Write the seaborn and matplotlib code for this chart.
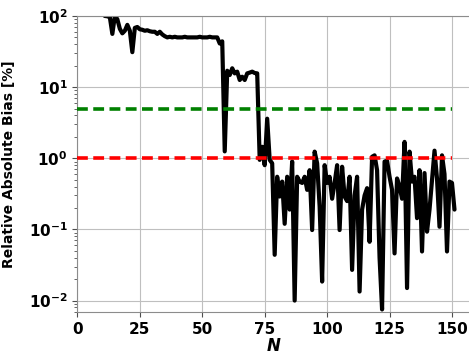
import numpy as np
import pandas as pd
import seaborn as sns
import matplotlib.pyplot as plt

# sample size N and relative absolute bias (%)
n_vals = list(range(1, 152))
bias_vals = [
    400, 350, 300, 280, 250, 220, 200, 170, 140, 110,          # 1-10
    100, 99, 96, 56, 100, 90, 66, 57, 62, 75,                  # 11-20
    62, 31, 68, 70, 65, 64, 62, 63, 61, 60,                    # 21-30
    60, 56, 60, 55, 52, 50, 51, 50, 51, 50,                    # 31-40
    50, 50, 51, 50, 50, 50, 50, 50, 51, 50,                    # 41-50
    50, 50, 51, 50, 50, 50, 41, 44, 1.25, 17,                  # 51-60
    14.8, 18.4, 15.6, 16.5, 12.6, 14, 12.6, 15.6, 16, 16.5,    # 61-70
    15.8, 15.6, 0.95, 1.45, 0.8, 3.6, 0.95, 0.85, 0.044, 0.55, # 71-80
    0.29, 0.47, 0.12, 0.55, 0.19, 0.9, 0.01, 0.55, 0.47, 0.45, # 81-90
    0.55, 0.36, 0.68, 0.098, 1.24, 0.85, 0.21, 0.0185, 0.8, 0.45,  # 91-100
    0.55, 0.27, 0.45, 0.8, 0.098, 0.76, 0.29, 0.25, 0.55, 0.027,   # 101-110
    0.3, 0.55, 0.0134, 0.19, 0.3, 0.38, 0.067, 1.05, 1.1, 0.68,    # 111-120
    0.04, 0.0075, 0.9, 0.92, 0.55, 0.36, 0.046, 0.52, 0.4, 0.27,   # 121-130
    1.7, 0.015, 1.24, 0.47, 0.55, 0.144, 0.68, 0.049, 0.62, 0.093, # 131-140
    0.19, 0.5, 1.28, 0.52, 0.109, 1.1, 0.6, 0.049, 0.47, 0.45,     # 141-150
    0.19,                                                          # 151
]

# reference thresholds (%) and the N range they span
thresholds = [5, 1]
threshold_colors = ["green", "red"]
threshold_span = [0, 150]

x_ticks = [0, 25, 50, 75, 100, 125, 150]


def main():
    df = pd.DataFrame({"N": n_vals, "bias": bias_vals})

    sns.set_style("whitegrid", {
        "axes.edgecolor": "0.55",
        "grid.color": "0.75",
        "xtick.bottom": True,
        "ytick.left": True,
        "text.color": "black",
        "axes.labelcolor": "black",
        "xtick.color": "black",
        "ytick.color": "black",
    })
    plt.rcParams["font.family"] = ["DejaVu Sans"]
    plt.rcParams["font.weight"] = "bold"
    plt.rcParams["mathtext.default"] = "bf"

    fig = plt.figure(figsize=(4.69, 3.55), dpi=100)
    ax = fig.add_axes([0.165, 0.121, 0.844, 0.834])

    sns.lineplot(data=df, x="N", y="bias", color="black", linewidth=3, ax=ax)

    for val, col in zip(thresholds, threshold_colors):
        ax.hlines(val, threshold_span[0], threshold_span[1], colors=col,
                  linestyles=(0, (3, 1.5)), linewidth=2.6, zorder=3)

    ax.set_yscale("log")
    ax.set_ylim(0.0069, 100)
    ax.set_xlim(0, 158.5)
    ax.set_xticks(x_ticks)

    ax.tick_params(axis="both", labelsize=11, length=3.5, color="0.3",
                   labelcolor="black")
    ax.tick_params(axis="y", which="minor", left=True, length=2, color="0.3")
    for lab in ax.get_xticklabels() + ax.get_yticklabels():
        lab.set_fontweight("bold")

    ax.set_xlabel("N", fontsize=12, fontweight="bold", fontstyle="italic")
    ax.set_ylabel("Relative Absolute Bias [%]", fontsize=10, fontweight="bold")
    ax.yaxis.set_label_coords(-0.155, 0.5)
    ax.xaxis.set_label_coords(0.495, -0.085)

    fig.savefig("out.png", dpi=100)


main()
